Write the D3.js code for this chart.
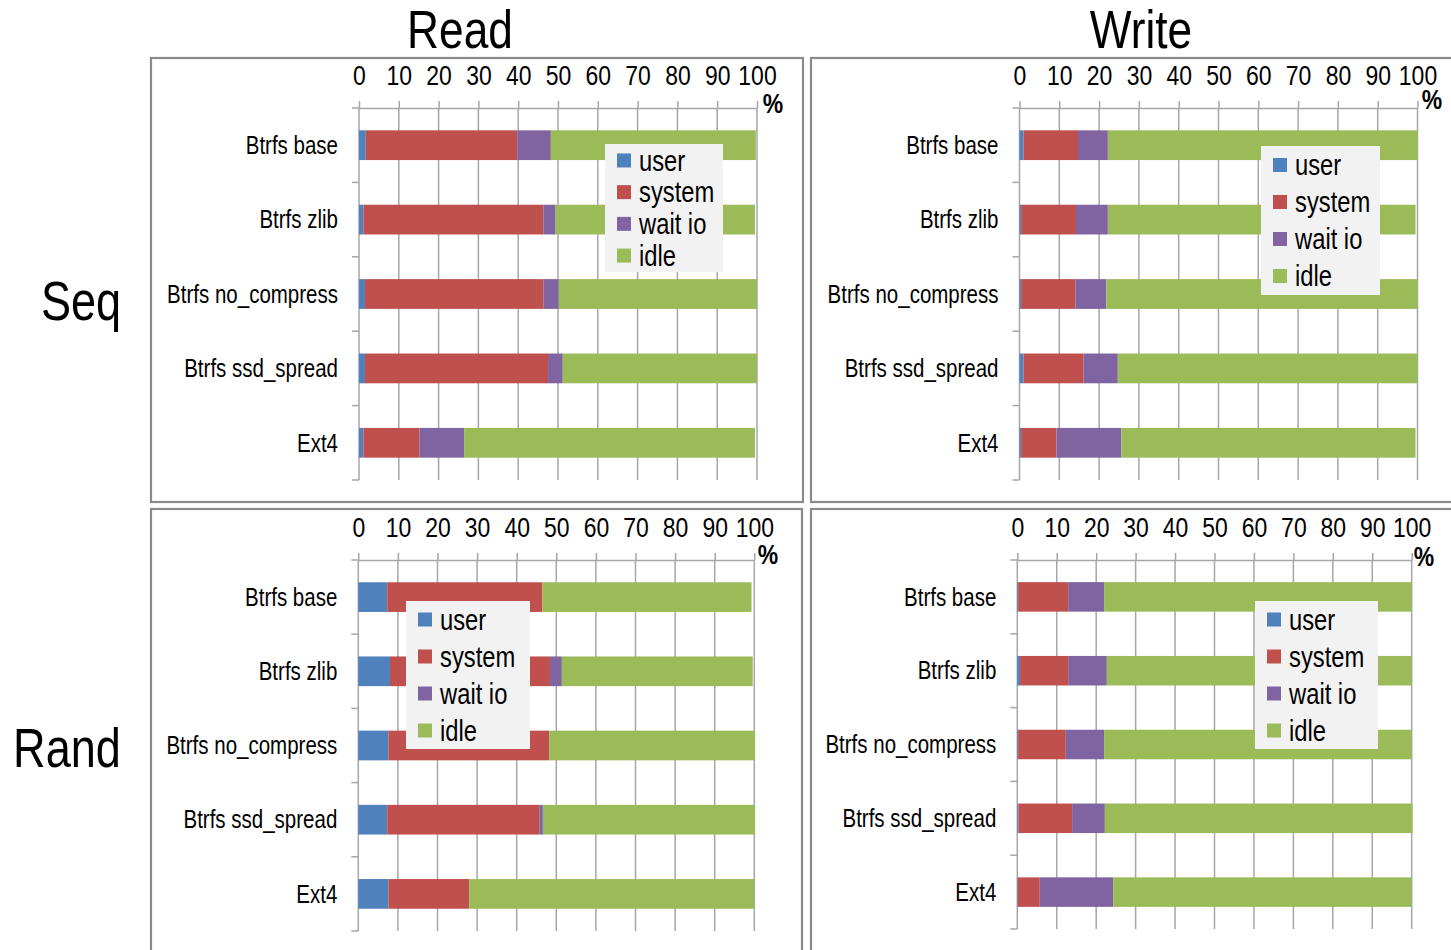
<!DOCTYPE html>
<html>
<head>
<meta charset="utf-8">
<script src="https://cdn.jsdelivr.net/npm/d3@7"></script>
<style>
  html, body { margin: 0; padding: 0; background: #fff; }
  svg { display: block; }
  text { font-family: 'Liberation Sans', Arial, sans-serif; fill: #000; }
</style>
</head>
<body>
<svg id="chart" width="1451" height="950"></svg>
<script>
// CPU usage breakdown (%) per file system configuration
const categories = ["Btrfs base", "Btrfs zlib", "Btrfs no_compress", "Btrfs ssd_spread", "Ext4"];
const seriesNames = ["user", "system", "wait io", "idle"];
const seriesColors = ["#4F81BD", "#C0504D", "#8064A2", "#9BBB59"];
const xTicks = [0, 10, 20, 30, 40, 50, 60, 70, 80, 90, 100];

// Sequential read
const seqReadUser   = [1.7, 1.1, 1.5, 1.5, 1.1];
const seqReadSystem = [38.1, 45.2, 44.8, 46.0, 14.1];
const seqReadWaitIo = [8.4, 3.1, 3.9, 3.7, 11.2];
const seqReadIdle   = [51.5, 50.1, 49.8, 48.8, 73.1];

// Sequential write
const seqWriteUser   = [1.0, 0.4, 0.4, 1.0, 0.4];
const seqWriteSystem = [13.7, 13.8, 13.7, 15.1, 8.9];
const seqWriteWaitIo = [7.5, 8.0, 7.7, 8.6, 16.3];
const seqWriteIdle   = [77.8, 77.3, 78.2, 75.3, 73.9];

// Random read
const randReadUser   = [7.3, 8.0, 7.6, 7.3, 7.6];
const randReadSystem = [39.2, 40.4, 40.6, 38.4, 20.4];
const randReadWaitIo = [0, 3.0, 0, 0.9, 0];
const randReadIdle   = [52.8, 48.2, 52.0, 53.6, 72.0];

// Random write
const randWriteUser   = [0.2, 0.7, 0.2, 0.3, 0.1];
const randWriteSystem = [12.7, 12.2, 12.1, 13.6, 5.6];
const randWriteWaitIo = [9.1, 9.8, 9.7, 8.3, 18.6];
const randWriteIdle   = [78.0, 77.3, 78.0, 78.0, 75.7];

// horizontal squeeze giving a condensed face
const NARROW = 0.82;

const svg = d3.select("#chart");

function narrowText(parent, x, y, str, size, anchor) {
  return parent.append("text")
    .attr("transform", `translate(${x},${y}) scale(${NARROW},1)`)
    .attr("text-anchor", anchor || "middle")
    .style("font-size", size + "px")
    .text(str);
}

// Column and row headings
narrowText(svg, 460, 48, "Read", 54);
narrowText(svg, 1141, 48, "Write", 54);
narrowText(svg, 81, 320, "Seq", 55);
narrowText(svg, 67, 767, "Rand", 55);

const panels = [
  { series: [seqReadUser, seqReadSystem, seqReadWaitIo, seqReadIdle],
    box: [151, 58, 652, 444], x0: 359, x1: 757, y0: 108, y1: 480,
    pct: [773, 113], legend: { x: 605, y: 144, w: 118, h: 128, step: 31.7 } },
  { series: [seqWriteUser, seqWriteSystem, seqWriteWaitIo, seqWriteIdle],
    box: [811, 58, 645, 444], x0: 1019.5, x1: 1417.5, y0: 108, y1: 480,
    pct: [1432, 109], legend: { x: 1261, y: 146, w: 119, h: 149, step: 37 } },
  { series: [randReadUser, randReadSystem, randReadWaitIo, randReadIdle],
    box: [151, 509, 651, 450], x0: 358.3, x1: 754.3, y0: 560, y1: 931,
    pct: [768, 564], legend: { x: 406, y: 601, w: 124, h: 148, step: 37 } },
  { series: [randWriteUser, randWriteSystem, randWriteWaitIo, randWriteIdle],
    box: [811, 509, 645, 450], x0: 1017.3, x1: 1411.7, y0: 560, y1: 929,
    pct: [1424, 566], legend: { x: 1255, y: 601, w: 123, h: 148, step: 37 } }
];

panels.forEach(p => {
  const g = svg.append("g");

  // panel frame
  g.append("rect")
    .attr("x", p.box[0]).attr("y", p.box[1])
    .attr("width", p.box[2]).attr("height", p.box[3])
    .attr("fill", "none").attr("stroke", "#8a8a8a").attr("stroke-width", 2.2);

  const x = d3.scaleLinear().domain([0, 100]).range([p.x0, p.x1]);
  const y = d3.scaleBand().domain(categories).range([p.y0, p.y1]).paddingInner(0.6).paddingOuter(0.3);

  // vertical gridlines
  g.selectAll(".grid").data(xTicks.slice(1)).join("line")
    .attr("x1", d => x(d)).attr("x2", d => x(d))
    .attr("y1", p.y0).attr("y2", p.y1)
    .attr("stroke", "#a6a6a6").attr("stroke-width", 1.5);

  // top axis
  const topAxis = d3.axisTop(x).tickValues(xTicks).tickSize(7).tickSizeOuter(0).tickPadding(16);
  const ta = g.append("g").attr("transform", `translate(0,${p.y0})`).call(topAxis);
  ta.select(".domain").attr("stroke", "#a6a6a6").attr("stroke-width", 1.5);
  ta.selectAll(".tick line").attr("stroke", "#a6a6a6").attr("stroke-width", 1.5);
  ta.selectAll(".tick text")
    .attr("fill", "#000")
    .attr("transform", `scale(${NARROW},1)`)
    .style("font-size", "28px")
    .style("font-family", "'Liberation Sans', Arial, sans-serif");

  // left category axis: line plus boundary ticks
  g.append("line").attr("x1", p.x0).attr("x2", p.x0).attr("y1", p.y0).attr("y2", p.y1)
    .attr("stroke", "#a6a6a6").attr("stroke-width", 1.5);
  const bounds = d3.range(categories.length + 1).map(i => p.y0 + i * (p.y1 - p.y0) / categories.length);
  g.selectAll(".btick").data(bounds).join("line")
    .attr("x1", p.x0 - 7).attr("x2", p.x0)
    .attr("y1", d => d).attr("y2", d => d)
    .attr("stroke", "#a6a6a6").attr("stroke-width", 1.5);

  // category labels
  g.selectAll(".cat").data(categories).join("text")
    .attr("transform", d => `translate(${p.x0 - 21},${y(d) + y.bandwidth() / 2}) scale(${NARROW},1)`)
    .attr("dy", "0.35em")
    .attr("text-anchor", "end")
    .style("font-size", "25px")
    .text(d => d);

  // stacked bars
  const rows = categories.map((c, i) => {
    const r = { cat: c };
    seriesNames.forEach((s, k) => { r[s] = p.series[k][i]; });
    return r;
  });
  const stacked = d3.stack().keys(seriesNames)(rows);
  g.selectAll(".layer").data(stacked).join("g")
    .attr("fill", (d, k) => seriesColors[k])
    .selectAll("rect").data(d => d).join("rect")
    .attr("x", d => x(d[0]))
    .attr("width", d => Math.max(0, x(d[1]) - x(d[0])))
    .attr("y", d => y(d.data.cat))
    .attr("height", y.bandwidth());

  // percent unit
  narrowText(g, p.pct[0], p.pct[1], "%", 28).style("font-weight", "bold");

  // legend
  const L = p.legend;
  const lg = g.append("g");
  lg.append("rect").attr("x", L.x).attr("y", L.y).attr("width", L.w).attr("height", L.h)
    .attr("fill", "#f2f2f2");
  const items = lg.selectAll(".item").data(seriesNames).join("g")
    .attr("transform", (d, k) => `translate(${L.x + 12},${L.y + L.h / 2 + (k - 1.5) * L.step})`);
  items.append("rect").attr("x", 0).attr("y", -7).attr("width", 14).attr("height", 14)
    .attr("fill", (d, k) => seriesColors[k]);
  items.append("text")
    .attr("transform", `translate(22,0) scale(${NARROW},1)`)
    .attr("dy", "0.35em")
    .style("font-size", "29px")
    .text(d => d);
});
</script>
</body>
</html>
